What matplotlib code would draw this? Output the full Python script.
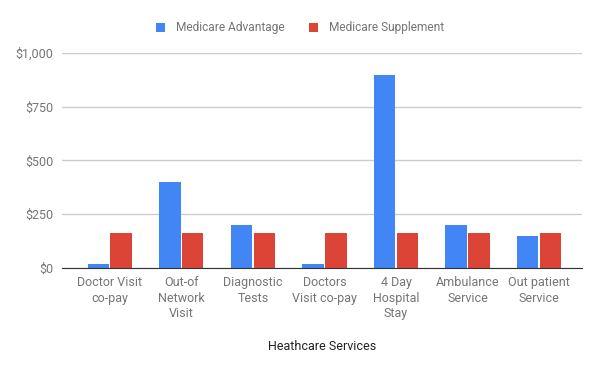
import matplotlib
matplotlib.use('Agg')
import matplotlib.pyplot as plt
import numpy as np

categories = ['Doctor Visit\nco-pay', 'Out-of\nNetwork\nVisit', 'Diagnostic\nTests',
              'Doctors\nVisit co-pay', '4 Day\nHospital\nStay', 'Ambulance\nService',
              'Out patient\nService']
advantage = [20, 400, 200, 20, 900, 200, 150]
supplement = [160, 160, 160, 160, 160, 160, 160]
yticks = [0, 250, 500, 750, 1000]
ytick_labels = ['$0', '$250', '$500', '$750', '$1,000']

plt.rcParams['font.family'] = ['Roboto', 'DejaVu Sans']
grey = '#757575'

fig = plt.figure(figsize=(6, 3.71), dpi=100)
ax = fig.add_axes([0.103, 0.278, 0.867, 0.579])

x = np.arange(len(categories))
w = 0.3
ax.bar(x - w / 2 - 0.01, advantage, w, color='#4285F4', label='Medicare Advantage', zorder=3)
ax.bar(x + w / 2 + 0.01, supplement, w, color='#DB4437', label='Medicare Supplement', zorder=3)

ax.set_xlim(-0.67, 6.6)
ax.set_ylim(0, 1000)
ax.set_yticks(yticks)
ax.set_yticklabels(ytick_labels)
ax.set_xticks(x)
ax.set_xticklabels(categories, linespacing=1.25)
ax.tick_params(axis='both', length=0, labelsize=9, colors=grey)
ax.tick_params(axis='y', pad=6)
ax.tick_params(axis='x', pad=6)

ax.grid(axis='y', color='#cccccc', linewidth=1, zorder=0)
for s in ['top', 'right', 'left']:
    ax.spines[s].set_visible(False)
ax.spines['bottom'].set_color('#333333')
ax.spines['bottom'].set_zorder(4)

ax.set_xlabel('Heathcare Services', fontsize=9, color='#222222', labelpad=14)

fig.legend(loc='center', bbox_to_anchor=(0.5, 0.925), ncol=2, frameon=False,
           fontsize=8.6, labelcolor=grey, handlelength=0.8, handleheight=0.8,
           columnspacing=2.0, handletextpad=0.9)

plt.savefig('out.png', dpi=100)
